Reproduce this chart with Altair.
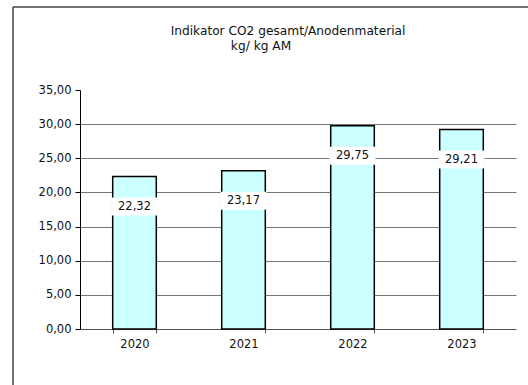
import altair as alt
import pandas as pd

years = ["2020", "2021", "2022", "2023"]
values = [22.32, 23.17, 29.75, 29.21]
labels = ["22,32", "23,17", "29,75", "29,21"]
y_ticks = [0, 5, 10, 15, 20, 25, 30, 35]
title_line1 = "Indikator CO2 gesamt/Anodenmaterial"
title_line2 = "kg/ kg AM"

df = pd.DataFrame({"year": years, "value": values, "label": labels})

FONT = "DejaVu Sans"

x_enc = alt.X(
    "year:N",
    title=None,
    sort=years,
    scale=alt.Scale(paddingInner=0.6, paddingOuter=0.3),
    axis=alt.Axis(
        labelAngle=0, labelFont=FONT, labelFontSize=11.5, labelColor="#111",
        tickBand="extent", tickSize=4, tickColor="#555", domainColor="#555",
        labelPadding=5, grid=False,
    ),
)
y_enc = alt.Y(
    "value:Q",
    title=None,
    scale=alt.Scale(domain=[0, 35], nice=False, zero=True),
    axis=alt.Axis(
        values=y_ticks,
        labelExpr="replace(format(datum.value, '.2f'), '.', ',')",
        labelFont=FONT, labelFontSize=11.5, labelColor="#111",
        tickSize=5, tickColor="#000", domainColor="#000",
        labelPadding=4,
        grid=True, gridColor="#777", gridWidth=1.2,
        gridOpacity=alt.condition("datum.value >= 35 || datum.value <= 0", alt.value(0), alt.value(1)),
    ),
)

base = alt.Chart(df)

bars = base.mark_bar(fill="#CCFFFF", stroke="#000", strokeWidth=1.5).encode(x=x_enc, y=y_enc)

boxes = base.mark_tick(
    color="white", opacity=1, thickness=18, size=46, yOffset=30, filled=True
).encode(x=x_enc, y=y_enc)

texts = base.mark_text(
    font=FONT, fontSize=11.5, color="#111", dy=30, baseline="middle"
).encode(x=x_enc, y=y_enc, text="label:N")

title1 = alt.Chart(pd.DataFrame({"t": [title_line1]})).mark_text(
    font=FONT, fontSize=12.2, color="#111", baseline="alphabetic", align="center"
).encode(x=alt.value(208), y=alt.value(-55), text="t:N")

title2 = alt.Chart(pd.DataFrame({"t": [title_line2]})).mark_text(
    font=FONT, fontSize=12.2, color="#111", baseline="alphabetic", align="center"
).encode(x=alt.value(181), y=alt.value(-40), text="t:N")

frame_top = alt.Chart(pd.DataFrame({"a": [0]})).mark_rule(color="#444", strokeWidth=1.5).encode(
    x=alt.value(-67), x2=alt.value(460), y=alt.value(-83)
)
frame_left = alt.Chart(pd.DataFrame({"a": [0]})).mark_rule(color="#444", strokeWidth=1.5).encode(
    x=alt.value(-67), y=alt.value(-83), y2=alt.value(310)
)

chart = alt.layer(bars, boxes, texts, title1, title2, frame_top, frame_left).properties(
    width=436,
    height=239,
    background="white",
    autosize=alt.AutoSizeParams(type="none"),
    padding={"left": 80, "top": 90, "right": 12, "bottom": 56},
).configure_view(strokeWidth=0, stroke="transparent")

chart.save("out.html", embed_options={"renderer": "svg", "actions": False})
